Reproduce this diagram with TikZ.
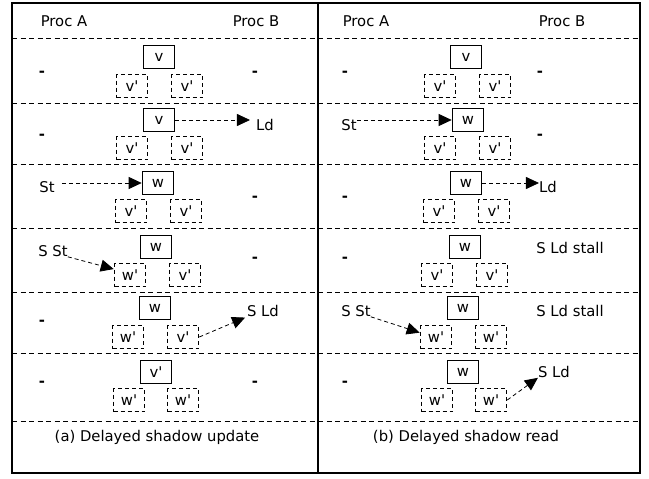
\documentclass[tikz,border=0pt]{standalone}
\usepackage{fontspec}
\newfontfamily\figfont{DejaVu Sans}
\usetikzlibrary{arrows.meta}

\newcommand{\shd}[1]{#1\textquotesingle}

\begin{document}
\begin{tikzpicture}[
		x=1pt, y=-1pt,
		font=\figfont\fontsize{14.8}{18}\selectfont,
		frame/.style={line width=1.8pt},
		rule/.style={dash pattern=on 5pt off 3.5pt, line width=0.8pt},
		cell/.style={draw, line width=1.6pt, minimum width=31pt, minimum height=23pt, inner sep=0pt},
		shadow/.style={cell, dash pattern=on 4pt off 3pt},
		lbl/.style={inner sep=0pt, text height=0.72em, text depth=0pt},
		idle/.style={lbl, font=\figfont\bfseries\fontsize{14.8}{18}\selectfont},
		msg/.style={dash pattern=on 4pt off 3pt, line width=0.8pt, -{Triangle[length=13pt,width=12pt]}}
		]
		
		\useasboundingbox (0,0) rectangle (649,479);
		
		% frame and time steps
		\draw[frame] (12,3) rectangle (640,473);
		\draw[frame] (318,3) -- (318,473);
		\draw[rule] (12,38) -- (640,38) (12,103) -- (640,103) (12,164) -- (640,164)
		(12,228) -- (640,228) (12,292) -- (640,292) (12,353) -- (640,353) (12,421) -- (640,421);
		
		% (a) delayed shadow update
		\node[lbl] (hdAa) at (64,23) {Proc A};
		\node[lbl] (hdAb) at (256,23) {Proc B};
		
		\node[cell] (a1) at (159,57) {v};
		\node[shadow] (a1l) at (132,86) {\shd{v}};
		\node[shadow] (a1r) at (187,86) {\shd{v}};
		\node[idle] (a1A) at (42,73.3) {-};
		\node[idle] (a1B) at (255,73.3) {-};
		
		\node[cell] (a2) at (159,120) {v};
		\node[shadow] (a2l) at (132,148) {\shd{v}};
		\node[shadow] (a2r) at (187,148) {\shd{v}};
		\node[idle] (a2A) at (42,136.3) {-};
		\node[lbl] (a2B) at (265,127) {Ld};
		\draw[msg, shorten >=6pt] (a2.east) -- (a2B.west |- a2.east);
		
		\node[cell] (a3) at (158,183) {w};
		\node[shadow] (a3l) at (131,211) {\shd{v}};
		\node[shadow] (a3r) at (186,211) {\shd{v}};
		\node[lbl] (a3A) at (47,189) {St};
		\node[idle] (a3B) at (255,198.3) {-};
		\draw[msg, shorten <=7pt] (a3A.east |- a3.west) -- (a3.west);
		
		\node[cell] (a4) at (156,247) {w};
		\node[shadow] (a4l) at (130,275) {\shd{w}};
		\node[shadow] (a4r) at (185,275) {\shd{v}};
		\node[lbl] (a4A) at (53,253) {S St};
		\node[idle] (a4B) at (255,259.3) {-};
		\draw[msg] (a4A.south east) -- (a4l.160);
		
		\node[cell] (a5) at (155,308) {w};
		\node[shadow] (a5l) at (128,337) {\shd{w}};
		\node[shadow] (a5r) at (183,337) {\shd{v}};
		\node[idle] (a5A) at (42,322.3) {-};
		\node[lbl] (a5B) at (263,313) {S Ld};
		\draw[msg, shorten >=2pt] (a5r.east) -- (a5B.south west);
		
		\node[cell] (a6) at (156,372) {\shd{v}};
		\node[shadow] (a6l) at (129,400) {\shd{w}};
		\node[shadow] (a6r) at (183,400) {\shd{w}};
		\node[idle] (a6A) at (42,383.3) {-};
		\node[idle] (a6B) at (255,383.3) {-};
		
		\node[lbl] (capA) at (157,438) {(a) Delayed shadow update};
		
		% (b) delayed shadow read
		\node[lbl] (hdBa) at (366,23) {Proc A};
		\node[lbl] (hdBb) at (562,23) {Proc B};
		
		\node[cell] (b1) at (466,57) {v};
		\node[shadow] (b1l) at (440,86) {\shd{v}};
		\node[shadow] (b1r) at (495,86) {\shd{v}};
		\node[idle] (b1A) at (345,73.3) {-};
		\node[idle] (b1B) at (540,73.3) {-};
		
		\node[cell] (b2) at (468,120) {w};
		\node[shadow] (b2l) at (440,148) {\shd{v}};
		\node[shadow] (b2r) at (495,148) {\shd{v}};
		\node[lbl] (b2A) at (349,127) {St};
		\node[idle] (b2B) at (540,136.3) {-};
		\draw[msg] (b2A.east |- b2.west) -- (b2.west);
		
		\node[cell] (b3) at (466,183) {w};
		\node[shadow] (b3l) at (439,211) {\shd{v}};
		\node[shadow] (b3r) at (494,211) {\shd{v}};
		\node[idle] (b3A) at (345,198.3) {-};
		\node[lbl] (b3B) at (548,189) {Ld};
		\draw[msg] (b3.east) -- (b3B.west |- b3.east);
		
		\node[cell] (b4) at (465,247) {w};
		\node[shadow] (b4l) at (437,275) {\shd{v}};
		\node[shadow] (b4r) at (492,275) {\shd{v}};
		\node[idle] (b4A) at (345,259.3) {-};
		\node[lbl] (b4B) at (570,250) {S Ld stall};
		
		\node[cell] (b5) at (463,308) {w};
		\node[shadow] (b5l) at (436,337) {\shd{w}};
		\node[shadow] (b5r) at (491,337) {\shd{w}};
		\node[lbl] (b5A) at (356,313) {S St};
		\node[lbl] (b5B) at (570,313) {S Ld stall};
		\draw[msg] (b5A.south east) -- (b5l.165);
		
		\node[cell] (b6) at (463,372) {w};
		\node[shadow] (b6l) at (437,400) {\shd{w}};
		\node[shadow] (b6r) at (491,400) {\shd{w}};
		\node[idle] (b6A) at (345,383.3) {-};
		\node[lbl] (b6B) at (554,374) {S Ld};
		\draw[msg] (b6r.east) -- (b6B.south west);
		
		\node[lbl] (capB) at (466,438) {(b) Delayed shadow read};
		
	\end{tikzpicture}
\end{document}
